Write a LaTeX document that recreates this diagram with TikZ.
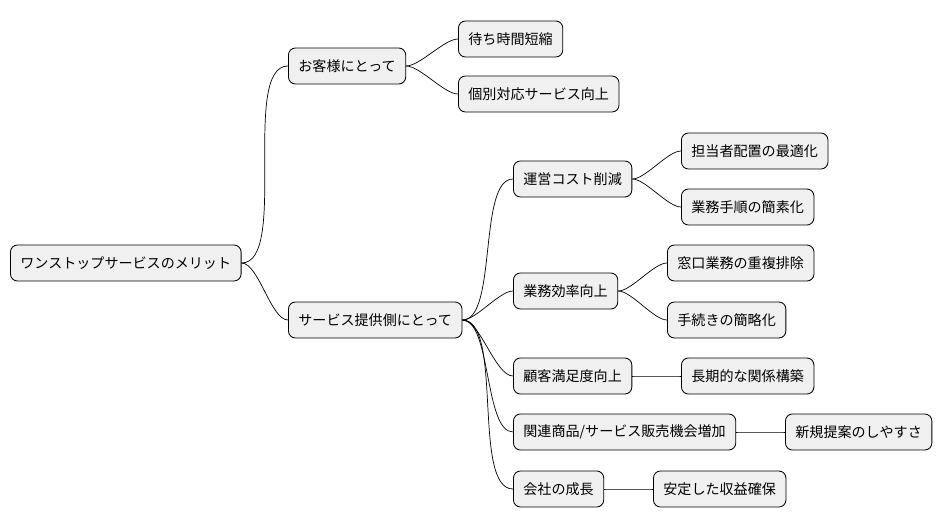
\documentclass[tikz,border=0pt]{standalone}
\usepackage{fontspec}
\setmainfont{Noto Sans CJK JP}
\usetikzlibrary{positioning}

\tikzset{
  idea/.style={draw=black, fill=gray!12, rounded corners=5pt, line width=0.6pt,
               minimum height=0.9cm, inner xsep=0.25cm, anchor=west,
               font=\fontsize{10}{12}\selectfont},
  link/.style={draw=black, line width=0.5pt, out=0, in=180, looseness=0.6}
}

\begin{document}
\begin{tikzpicture}[x=0.025cm, y=-0.025cm]
        \useasboundingbox (0,0) rectangle (941,527);

        % Root
        \node[idea] (root) at (10,263) {ワンストップサービスのメリット};

        % Customer side
        \node[idea] (cust) at (288,66) {お客様にとって};
        \node[idea] (wait) at (458,39) {待ち時間短縮};
        \node[idea] (indiv) at (458,94) {個別対応サービス向上};

        % Provider side
        \node[idea] (prov) at (288,320) {サービス提供側にとって};
        \node[idea] (cost) at (513,179) {運営コスト削減};
        \node[idea] (staff) at (681,151) {担当者配置の最適化};
        \node[idea] (proc) at (681,207) {業務手順の簡素化};
        \node[idea] (effic) at (513,291) {業務効率向上};
        \node[idea] (dup) at (667,263) {窓口業務の重複排除};
        \node[idea] (simpl) at (667,320) {手続きの簡略化};
        \node[idea] (satis) at (513,376) {顧客満足度向上};
        \node[idea] (rel) at (681,376) {長期的な関係構築};
        \node[idea] (sales) at (513,432) {関連商品/サービス販売機会増加};
        \node[idea] (prop) at (785,432) {新規提案のしやすさ};
        \node[idea] (grow) at (513,489) {会社の成長};
        \node[idea] (rev) at (653,489) {安定した収益確保};

        % Connectors
        \foreach \a/\b in {root/cust, root/prov, cust/wait, cust/indiv,
                prov/cost, prov/effic, prov/satis, prov/sales, prov/grow,
                cost/staff, cost/proc, effic/dup, effic/simpl,
                satis/rel, sales/prop, grow/rev} {
            \draw[link] (\a.east) to (\b.west);
        }
\end{tikzpicture}
\end{document}
